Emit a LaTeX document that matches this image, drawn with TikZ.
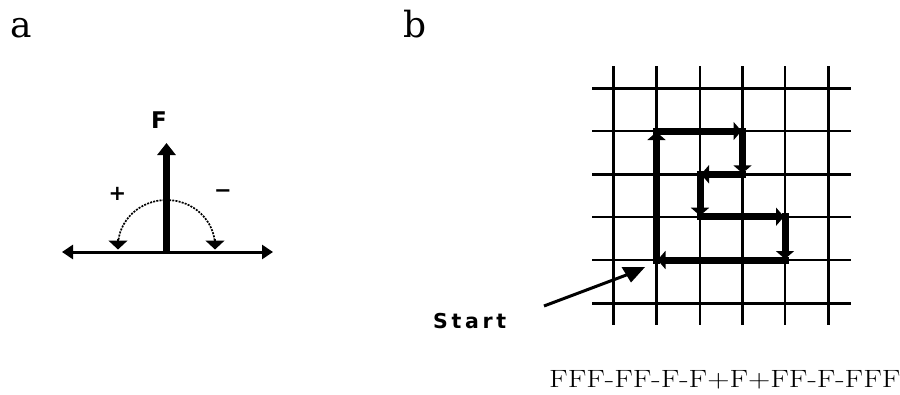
\documentclass[tikz,border=0pt]{standalone}
\usepackage{fontspec}
\usepackage{graphicx}
\usetikzlibrary{arrows.meta}
\newfontfamily\panelfont{DejaVu Serif}
\newfontfamily\uisans{DejaVu Sans}
\newfontfamily\spacedsans[LetterSpace=18]{DejaVu Sans}

\tikzset{
  panel/.style={anchor=base west, inner sep=0pt, font=\panelfont\fontsize{36}{40}\selectfont},
  signlabel/.style={inner sep=0pt, font=\uisans\bfseries\fontsize{21}{24}\selectfont},
  gridline/.style={line width=2.4pt},
  turtle/.style={line width=7pt, line cap=rect, -{Triangle[length=8pt,width=18pt]}, shorten >=1pt},
  axis/.style={line width=3pt, {Triangle[length=11pt,width=14pt]}-{Triangle[length=11pt,width=14pt]}},
  heading/.style={line width=7pt, -{Triangle[length=12pt,width=18pt]}},
  turn/.style={line width=1.7pt, dash pattern=on 2pt off 1.2pt},
  turntip/.style={line width=1.5pt, -{Triangle[length=9pt,width=19pt]}}
}

\begin{document}
\begin{tikzpicture}[x=1pt,y=-1pt]
\useasboundingbox (0,0) rectangle (900,394);

% panel letters
\node[panel] (lblA) at (10,37) {a};
\node[panel] (lblB) at (403,37) {b};

% ---- panel a: turtle heading and turn directions ----
\coordinate (origin) at (166.5,252);
\coordinate (axisL) at (62,252);
\coordinate (axisR) at (273,252);
\coordinate (headTip) at (166.5,143);
\draw[axis] (axisL) -- (axisR);
\draw[heading] (origin) -- (headTip);
\node[inner sep=0pt, font=\uisans\bfseries\fontsize{23}{26}\selectfont] (fLabel) at (159,120) {F};

% dashed turn arcs ending in downward tips
\coordinate (arcL) at (118,246);
\draw[turn] (arcL) arc[start angle=180, end angle=360, x radius=48.5, y radius=46];
\coordinate (tipLs) at (118,239);
\coordinate (tipLe) at (118,249.5);
\coordinate (tipRs) at (215,239);
\coordinate (tipRe) at (215,249.5);
\draw[turntip] (tipLs) -- (tipLe);
\draw[turntip] (tipRs) -- (tipRe);
\node[signlabel] (plusLabel) at (117.5,194) {+};
\node[signlabel] (minusLabel) at (223,194) {−};

% ---- panel b: grid and turtle path ----
\foreach \gx in {613.3,656.5,700,742.5,785,828.3}
  \draw[gridline] (\gx,66) -- (\gx,325);
\foreach \gy in {88.3,131,174.3,216.7,260,303.3}
  \draw[gridline] (592,\gy) -- (851,\gy);

\coordinate (p0) at (656.5,260);
\coordinate (p1) at (656.5,131);
\coordinate (p2) at (742.5,131);
\coordinate (p3) at (742.5,174.3);
\coordinate (p4) at (700,174.3);
\coordinate (p5) at (700,216.7);
\coordinate (p6) at (785,216.7);
\coordinate (p7) at (785,260);

\draw[turtle] (p0) -- (p1);
\draw[turtle] (p1) -- (p2);
\draw[turtle] (p2) -- (p3);
\draw[turtle] (p3) -- (p4);
\draw[turtle] (p4) -- (p5);
\draw[turtle] (p5) -- (p6);
\draw[turtle] (p6) -- (p7);
\draw[turtle] (p7) -- (p0);

% start marker
\node[anchor=base west, inner sep=0pt, font=\spacedsans\bfseries\fontsize{20.5}{24}\selectfont] (startLabel) at (433,328) {Start};
\coordinate (startTail) at (544,306);
\coordinate (startHead) at (629,274);
\draw[line width=3pt] (startTail) -- (startHead);
\fill (621.5,267) -- (645,267) -- (631,282.5) -- cycle;

% command string
\node[anchor=base west, inner sep=0pt, font=\fontsize{25}{30}\selectfont] (cmd) at (549,387) {\scalebox{1.235}[1]{FFF-FF-F-F+F+FF-F-FFF}};
\end{tikzpicture}
\end{document}
